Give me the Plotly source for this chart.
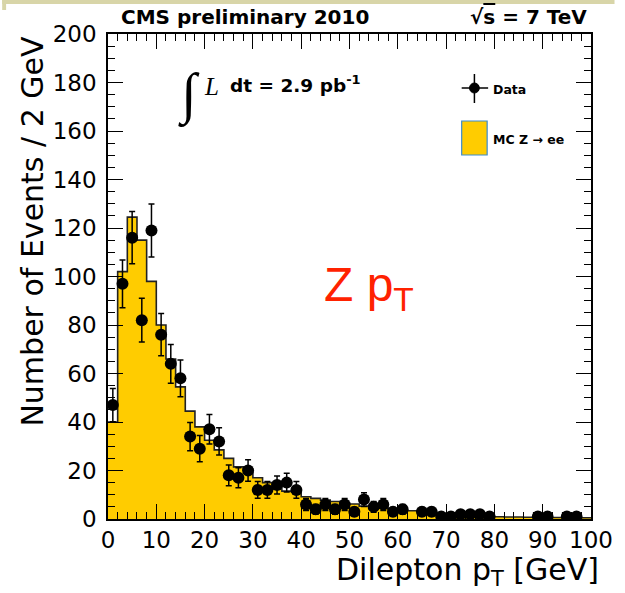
import numpy as np
import plotly.graph_objects as go

# ---- data (2 GeV bins from 0 to 100) ----
bin_width = 2
bin_lo = list(range(0, 100, 2))
mc_zee = [40, 102, 124.5, 115, 98, 80, 66, 54.5, 44.5, 38,
          32.5, 28.5, 25, 21.5, 20.5, 17, 15, 13.5, 11.5, 11,
          9.2, 8.5, 7.8, 7.2, 6.5, 6.2, 5.3, 5.0, 4.5, 4.0,
          3.6, 3.4, 3.3, 3.2, 1.8, 1.7, 1.6, 1.5, 1.4, 1.3,
          0.9, 0.8, 0.8, 0.7, 0.7, 0.6, 0.6, 0.5, 0.5, 0.5]
data_counts = [47, 97, 116, 82, 119, 76, 64, 58, 34, 29,
               37, 32, 18, 17, 20, 12, 12, 14, 15, 12,
               6, 4, 6, 4, 6, 3, 8, 5, 6, 3,
               4, 0, 3, 3, 1, 1, 2, 2, 2, 1,
               0, 0, 0, 0, 1, 1, 0, 1, 1, 0]
x_ticks = [0, 10, 20, 30, 40, 50, 60, 70, 80, 90, 100]
y_ticks = [0, 20, 40, 60, 80, 100, 120, 140, 160, 180, 200]

# ---- geometry helpers (pixel -> paper) ----
L, R, T, B = 108, 601, 34, 519
W, H = 625, 593
def px(x):
    return (x - L) / (R - L)
def py(y):
    return (B - y) / (B - T)

edges = bin_lo + [bin_lo[-1] + bin_width]
centers = [b + bin_width / 2 for b in bin_lo]
mc_step = mc_zee + [mc_zee[-1]]
d_y = [c if c > 0 else None for c in data_counts]
d_err = [float(np.sqrt(c)) if c > 0 else None for c in data_counts]

YELLOW = "#FFCC00"
fig = go.Figure()
fig.add_trace(go.Scatter(
    x=edges, y=mc_step, mode="lines", line_shape="hv",
    line=dict(color="#222222", width=1.6),
    fill="tozeroy", fillcolor=YELLOW, hoverinfo="skip", showlegend=False))
fig.add_trace(go.Scatter(
    x=centers, y=d_y, mode="markers",
    marker=dict(color="black", size=12),
    error_y=dict(type="data", array=d_err, visible=True,
                 color="black", thickness=1.5, width=3),
    showlegend=False))

axis_font = dict(family="DejaVu Sans", size=23, color="black")
common = dict(showline=True, linecolor="black", linewidth=1.5, mirror="ticks",
              ticks="inside", tickcolor="black", tickwidth=1.3, ticklen=15,
              showgrid=False, zeroline=False, tickfont=axis_font)
fig.update_xaxes(range=[0, 100], tickvals=x_ticks,
                 minor=dict(dtick=2, tick0=0, ticks="inside", ticklen=7,
                            tickcolor="black", tickwidth=1.1, showgrid=False),
                 ticklabelstandoff=0, **common)
fig.update_yaxes(range=[0, 200], tickvals=y_ticks,
                 minor=dict(dtick=5, tick0=0, ticks="inside", ticklen=7,
                            tickcolor="black", tickwidth=1.1, showgrid=False),
                 ticklabelstandoff=5, **common)

ann = []
def A(text, x, y, xa="left", ya="middle", size=18, family="DejaVu Sans",
      color="black", angle=0):
    ann.append(dict(text=text, x=px(x), y=py(y), xref="paper", yref="paper",
                    xanchor=xa, yanchor=ya, showarrow=False, textangle=angle,
                    font=dict(family=family, size=size, color=color)))

A("<b>CMS preliminary 2010</b>", 119, 17, size=20)
A("<b>√<span style='text-decoration:overline'>s</span> = 7 TeV</b>", 599, 17, xa="right", size=20)
A("∫", 191, 95, xa="center", size=56, family="Liberation Serif")
A("<i>L</i>", 214, 87, xa="center", size=25, family="Liberation Serif")
A("<b>dt = 2.9 pb<sup>-1</sup></b>", 230, 84, size=18.5)
A("<b>Data</b>", 499, 89, size=12.5)
A("<b>MC Z → ee</b>", 499, 139, size=12.5)
A("Z p<sub>T</sub>", 326, 288, size=48, family="Liberation Sans", color="#FF2200")
A("Number of Events / 2 GeV", 30, 231, xa="center", size=30, angle=-90)
A("Dilepton p<sub>T</sub> [GeV]", 611, 571, xa="right", size=30)

shapes = [
    # slide decoration bar at the very top
    dict(type="rect", xref="paper", yref="paper", x0=px(0), x1=px(625),
         y0=py(4), y1=py(0), fillcolor="#D8D5A8", line=dict(width=0), layer="above"),
    dict(type="rect", xref="paper", yref="paper", x0=px(0), x1=px(4),
         y0=py(10), y1=py(0), fillcolor="#D8D5A8", line=dict(width=0), layer="above"),
    # legend: data marker with error cross
    dict(type="line", xref="paper", yref="paper", x0=px(469), x1=px(496),
         y0=py(88), y1=py(88), line=dict(color="black", width=1.5)),
    dict(type="line", xref="paper", yref="paper", x0=px(482), x1=px(482),
         y0=py(74), y1=py(103), line=dict(color="black", width=1.5)),
    dict(type="circle", xref="paper", yref="paper", x0=px(477), x1=px(487),
         y0=py(93), y1=py(83), fillcolor="black", line=dict(color="black", width=1)),
    # legend: MC box
    dict(type="rect", xref="paper", yref="paper", x0=px(469), x1=px(495),
         y0=py(155), y1=py(121), fillcolor=YELLOW, line=dict(color="#3B8BD0", width=1.2)),
]

fig.update_layout(width=W, height=H, margin=dict(l=L, r=W - R, t=T, b=H - B),
                  paper_bgcolor="white", plot_bgcolor="white",
                  annotations=ann, shapes=shapes, showlegend=False)
fig.write_html("out.html")
